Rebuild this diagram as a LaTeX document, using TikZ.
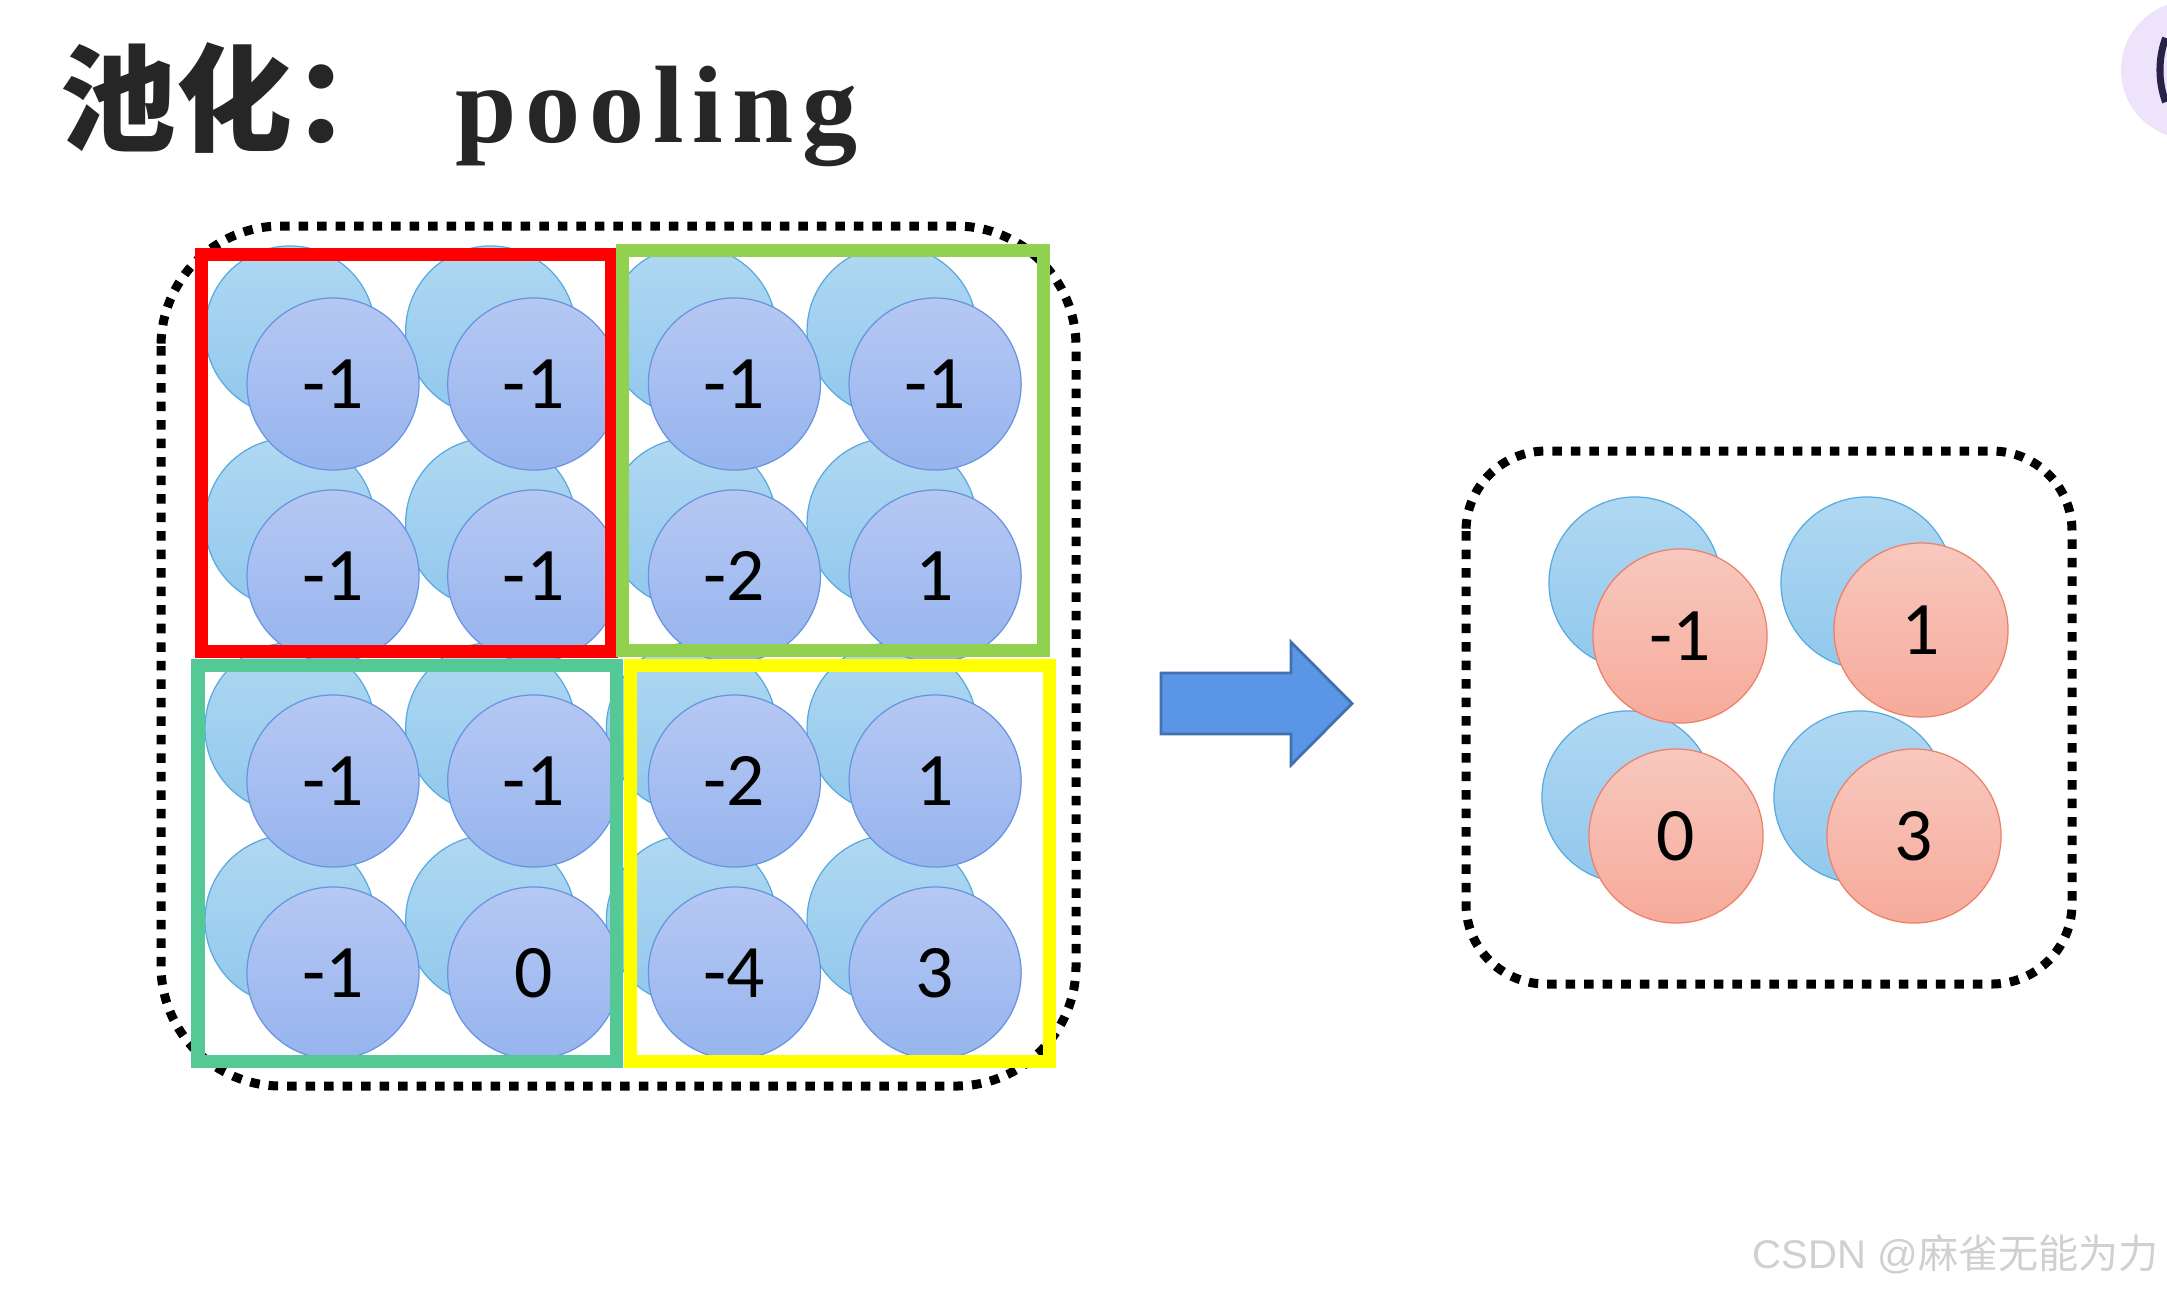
\documentclass[tikz,border=0pt]{standalone}
\usepackage{fontspec}
\setmainfont{Carlito}
\newfontfamily\cjk{Noto Sans CJK SC}
\newfontfamily\titlefont[LetterSpace=8]{Liberation Serif}
\newfontfamily\markfont{Liberation Sans}
\usepackage{xcolor}
\usepackage{tikz}
\usetikzlibrary{positioning}

\definecolor{titlegray}{RGB}{38,38,38}
\definecolor{backtop}{RGB}{176,216,242}
\definecolor{backbot}{RGB}{145,200,237}
\definecolor{backline}{RGB}{86,170,224}
\definecolor{fronttop}{RGB}{182,200,243}
\definecolor{frontbot}{RGB}{150,180,238}
\definecolor{frontline}{RGB}{104,148,223}
\definecolor{pooltop}{RGB}{248,200,190}
\definecolor{poolbot}{RGB}{246,170,154}
\definecolor{poolline}{RGB}{236,128,104}
\definecolor{winred}{RGB}{255,0,0}
\definecolor{wingreen}{RGB}{146,208,80}
\definecolor{winteal}{RGB}{85,201,149}
\definecolor{winyellow}{RGB}{255,255,0}
\definecolor{arrowfill}{RGB}{91,149,229}
\definecolor{arrowline}{RGB}{66,113,176}
\definecolor{markgray}{RGB}{208,208,208}
\definecolor{avatarbg}{RGB}{237,227,250}
\definecolor{avatarline}{RGB}{40,35,70}

\tikzset{
  backcell/.style={circle, minimum size=1.70cm, inner sep=0pt,
    draw=backline, line width=0.35pt, top color=backtop, bottom color=backbot},
  frontcell/.style={circle, minimum size=1.72cm, inner sep=0pt,
    draw=frontline, line width=0.35pt, top color=fronttop, bottom color=frontbot,
    font=\fontsize{21.5}{26}\selectfont},
  poolcell/.style={circle, minimum size=1.74cm, inner sep=0pt,
    draw=poolline, line width=0.35pt, top color=pooltop, bottom color=poolbot,
    font=\fontsize{21.5}{26}\selectfont},
  window/.style={line width=0.13cm},
  dotbox/.style={line width=0.09cm, dash pattern=on 0.095cm off 0.09cm,
    rounded corners=1.2cm},
  blockarrow/.style={fill=arrowfill, draw=arrowline, line width=0.8pt,
    line join=miter},
}

\begin{document}
\begin{tikzpicture}[x=0.01cm, y=-0.01cm]
\useasboundingbox (0,0) rectangle (2167,1293);

% title
\node[anchor=base west, inner sep=0pt, text=titlegray,
  font=\cjk\bfseries\fontsize{33}{38}\selectfont] (title) at (60,142) {池化：};
\node[anchor=base west, inner sep=0pt, text=titlegray,
  font=\titlefont\bfseries\fontsize{31.3}{36}\selectfont] (titlepool) at (455,142) {pooling};

% input map
\draw[dotbox] (161,226) rectangle (1076,1086);
\foreach \y/\cy in {1/384,2/576,3/781,4/973}
  \foreach \x in {1,...,4}
    \node[backcell] (back-\y-\x) at ({333+200.7*(\x-1)-43},\cy-53) {};
\foreach \y/\cy/\row in {1/384/{-1,-1,-1,-1},2/576/{-1,-1,-2,1},
                         3/781/{-1,-1,-2,1},4/973/{-1,0,-4,3}}
  \foreach \v [count=\x] in \row
    \node[frontcell] (in-\y-\x) at ({333+200.7*(\x-1)},\cy) {\v};

% pooling windows
\draw[window, winred]    (201.5,254.5) rectangle (611.5,651);
\draw[window, wingreen]  (622,250)     rectangle (1043,650);
\draw[window, winteal]   (198,665.5)   rectangle (616,1061);
\draw[window, winyellow] (630,665.5)   rectangle (1049,1061);

% arrow
\draw[blockarrow] (1161,673) -- (1291,673) -- (1291,642) -- (1352,703.5)
  -- (1291,765) -- (1291,734) -- (1161,734) -- cycle;

% output map
\draw[dotbox, rounded corners=0.8cm] (1466,451) rectangle (2072,984);
\foreach \bx/\by [count=\i] in {1635/583,1867/583,1628/797,1860/797}
  \node[backcell, minimum size=1.72cm] (pback-\i) at (\bx,\by) {};
\foreach \px/\py/\v [count=\i] in {1680/636/-1,1921/630/1,1676/836/0,1914/836/3}
  \node[poolcell] (out-\i) at (\px,\py) {\v};

% watermark and avatar
\node[anchor=base west, inner sep=0pt, text=markgray,
  font=\fontsize{11.4}{14}\selectfont] (mark) at (1752,1268)
  {\markfont CSDN @\cjk 麻雀无能为力};
\fill[avatarbg] (2190,70) circle (0.69cm);
\draw[avatarline, line width=2pt] (2254,70) ++(160:0.94cm)
  arc[start angle=160, end angle=200, radius=0.94cm];
\end{tikzpicture}
\end{document}
